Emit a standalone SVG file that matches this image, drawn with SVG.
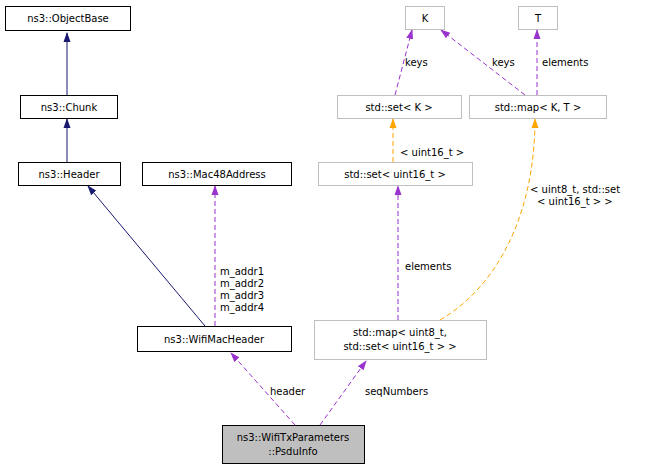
<svg xmlns="http://www.w3.org/2000/svg" width="651" height="471" viewBox="0 0 651 471">
<style>
text{font-family:"DejaVu Sans",sans-serif;font-size:10px;fill:#000}
.n{fill:#fff;stroke:#000;stroke-width:1}
.g{fill:#fff;stroke:#bfbfbf;stroke-width:1}
.s{fill:#bfbfbf;stroke:#000;stroke-width:1}
.t text{text-anchor:middle}
.inh{stroke:#191970;fill:none}
.col{stroke:#9a32cd;fill:none;stroke-dasharray:5,3}
.tpl{stroke:#ffa500;fill:none;stroke-dasharray:5,3}
</style>
<defs>
<marker id="an" markerWidth="10" markerHeight="10" refX="9" refY="5" orient="auto" markerUnits="userSpaceOnUse"><path d="M0,1.5L10,5L0,8.5Z" fill="#191970"/></marker>
<marker id="ap" markerWidth="10" markerHeight="10" refX="9" refY="5" orient="auto" markerUnits="userSpaceOnUse"><path d="M0,1.5L10,5L0,8.5Z" fill="#9a32cd"/></marker>
<marker id="ao" markerWidth="10" markerHeight="10" refX="9" refY="5" orient="auto" markerUnits="userSpaceOnUse"><path d="M0,1.5L10,5L0,8.5Z" fill="#ffa500"/></marker>
</defs>
<rect width="651" height="471" fill="#fff"/>
<g id="edges">
<path class="inh" d="M67,95V33" marker-end="url(#an)"/>
<path class="inh" d="M67,162V119" marker-end="url(#an)"/>
<path class="inh" d="M205,326L88,186" marker-end="url(#an)"/>
<path class="col" d="M215,326V186" marker-end="url(#ap)"/>
<path class="col" d="M295,425L231,353" marker-end="url(#ap)"/>
<path class="col" d="M320,425L366,361" marker-end="url(#ap)"/>
<path class="col" d="M398,320V186" marker-end="url(#ap)"/>
<path class="tpl" d="M440,320C500,285 535,210 535,119" marker-end="url(#ao)"/>
<path class="tpl" d="M393,162V119" marker-end="url(#ao)"/>
<path class="col" d="M395,95L412,30" marker-end="url(#ap)"/>
<path class="col" d="M525,95L441,30" marker-end="url(#ap)"/>
<path class="col" d="M537,95V30" marker-end="url(#ap)"/>
<text x="220" y="275">m_addr1</text>
<text x="220" y="287">m_addr2</text>
<text x="220" y="299">m_addr3</text>
<text x="220" y="291" display="none"></text>
<text x="220" y="311" display="none"></text>
<text x="220" y="311">m_addr4</text>
<text x="270" y="395">header</text>
<text x="365" y="395">seqNumbers</text>
<text x="405" y="270">elements</text>
<text x="530" y="193">&lt; uint8_t, std::set</text>
<text x="537" y="205">&lt; uint16_t &gt; &gt;</text>
<text x="400" y="156">&lt; uint16_t &gt;</text>
<text x="405" y="66">keys</text>
<text x="492" y="66">keys</text>
<text x="542" y="66">elements</text>
</g>
<g class="t">
<g id="ObjectBase"><rect class="n" x="5.5" y="6.5" width="125" height="24"/><text x="68" y="22">ns3::ObjectBase</text></g>
<g id="Chunk"><rect class="n" x="20.5" y="95.5" width="97" height="23"/><text x="69" y="111">ns3::Chunk</text></g>
<g id="Header"><rect class="n" x="18.5" y="162.5" width="102" height="23"/><text x="69" y="178">ns3::Header</text></g>
<g id="Mac48Address"><rect class="n" x="142.5" y="162.5" width="149" height="23"/><text x="217" y="178">ns3::Mac48Address</text></g>
<g id="WifiMacHeader"><rect class="n" x="137.5" y="326.5" width="154" height="25"/><text x="214" y="343">ns3::WifiMacHeader</text></g>
<g id="PsduInfo"><rect class="s" x="222.5" y="425.5" width="142" height="38"/><text x="293" y="441">ns3::WifiTxParameters</text><text x="293" y="455">::PsduInfo</text></g>
<g id="K"><rect class="g" x="405.5" y="6.5" width="39" height="23"/><text x="425" y="22">K</text></g>
<g id="T"><rect class="g" x="518.5" y="6.5" width="39" height="23"/><text x="538" y="22">T</text></g>
<g id="setK"><rect class="g" x="337.5" y="95.5" width="124" height="23"/><text x="399" y="111">std::set&lt; K &gt;</text></g>
<g id="mapKT"><rect class="g" x="469.5" y="95.5" width="137" height="23"/><text x="538" y="111">std::map&lt; K, T &gt;</text></g>
<g id="setU16"><rect class="g" x="318.5" y="162.5" width="154" height="23"/><text x="395" y="178">std::set&lt; uint16_t &gt;</text></g>
<g id="mapU8"><rect class="g" x="314.5" y="320.5" width="172" height="39"/><text x="400" y="336">std::map&lt; uint8_t,</text><text x="400" y="350">std::set&lt; uint16_t &gt; &gt;</text></g>
</g>
</svg>
